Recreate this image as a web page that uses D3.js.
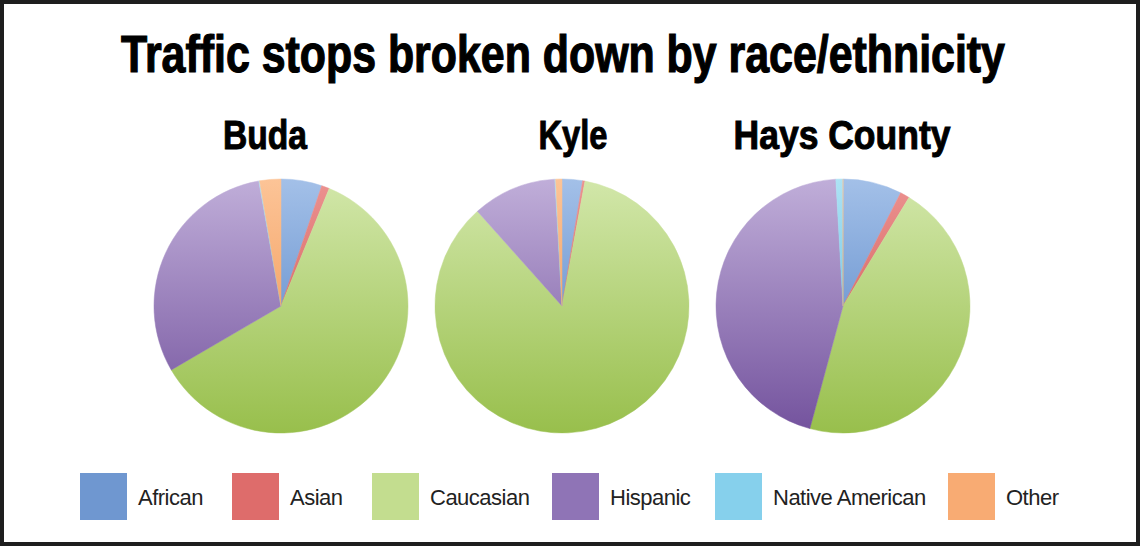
<!DOCTYPE html>
<html><head><meta charset="utf-8">
<script src="https://cdn.jsdelivr.net/npm/d3@7"></script>
<style>html,body{margin:0;padding:0;background:#fff;}svg{display:block;}</style>
</head><body>
<script>
const categories = ["African","Asian","Caucasian","Hispanic","Native American","Other"];
const regions = ["Buda","Kyle","Hays County"];
const budaValues = [5.2, 1.0, 60.4, 30.6, 0.1, 2.7];
const kyleValues = [2.6, 0.3, 85.5, 10.7, 0.1, 0.8];
const haysValues = [7.5, 1.2, 45.5, 44.9, 0.9, 0.0];
const seriesValues = [budaValues, kyleValues, haysValues];
const title = "Traffic stops broken down by race/ethnicity";

const flatColors = ["#6f97d0","#de6c6b","#c3dd8f","#8f74b6","#86d0ec","#f8ab73"];
const topColors = ["#a3c0e8","#ec9290","#d2e7aa","#c0aed9","#ade2f4","#fcc497"];
const botColors = ["#4a7bc1","#c94b48","#98bf4c","#73529d","#4cb6dc","#ee8c44"];

const W = 1140, H = 546;
const svg = d3.select("body").append("svg").attr("width", W).attr("height", H);
const defs = svg.append("defs");

svg.append("rect").attr("x",2).attr("y",2).attr("width",W-4).attr("height",H-4)
  .attr("fill","#fff").attr("stroke","#1e1e1e").attr("stroke-width",4);

const headFont = "'Liberation Sans','Arial',sans-serif";

// condensed heading: draw at natural width, then squeeze horizontally to target width
function condensed(text, cx, y, size, targetW, sw) {
  const g = svg.append("g");
  const t = g.append("text").attr("x",0).attr("y",0).attr("text-anchor","middle")
    .attr("font-family",headFont).attr("font-weight","bold").attr("font-size",size)
    .attr("stroke","#000").attr("stroke-width",sw).attr("fill","#000").text(text);
  const nat = t.node().getComputedTextLength();
  g.attr("transform", `translate(${cx},${y}) scale(${targetW/nat},1)`);
}

condensed(title, 563, 72, 51, 884, 1.2);

const pieCx = d3.scalePoint().domain(regions).range([281, 843]);
const labelX = {"Buda":265, "Kyle":573, "Hays County":842};
const labelW = {"Buda":84, "Kyle":69, "Hays County":217};
const cy = 306, r = 127;

const pie = d3.pie().sort(null).value(d => d.v).startAngle(0).endAngle(2*Math.PI);
const arc = d3.arc().innerRadius(0).outerRadius(r);

regions.forEach((reg, i) => {
  const cx = pieCx(reg);
  const g = svg.append("g").attr("transform", `translate(${cx},${cy})`);
  categories.forEach((c, j) => {
    const gr = defs.append("linearGradient").attr("id", `g${i}_${j}`)
      .attr("gradientUnits","userSpaceOnUse").attr("x1",0).attr("x2",0).attr("y1",-r).attr("y2",r);
    gr.append("stop").attr("offset","0%").attr("stop-color",topColors[j]);
    gr.append("stop").attr("offset","100%").attr("stop-color",botColors[j]);
  });
  const data = categories.map((c, j) => ({c, j, v: seriesValues[i][j]}));
  g.selectAll("path").data(pie(data)).join("path")
    .attr("d", arc).attr("fill", d => `url(#g${i}_${d.data.j})`)
    .attr("stroke", d => `url(#g${i}_${d.data.j})`).attr("stroke-width", 0.5);
  condensed(reg, labelX[reg], 149, 41, labelW[reg], 1);
});

const legendX = [80, 232, 372, 552, 715, 948];
const lg = svg.append("g");
categories.forEach((c, j) => {
  lg.append("rect").attr("x", legendX[j]).attr("y", 473).attr("width", 47).attr("height", 47)
    .attr("fill", flatColors[j]);
  lg.append("text").attr("x", legendX[j] + 58).attr("y", 505)
    .attr("font-family","'Liberation Sans',Arial,sans-serif").attr("font-size",22)
    .attr("letter-spacing",-0.5)
    .attr("fill","#222").text(c);
});
</script>
</body></html>
